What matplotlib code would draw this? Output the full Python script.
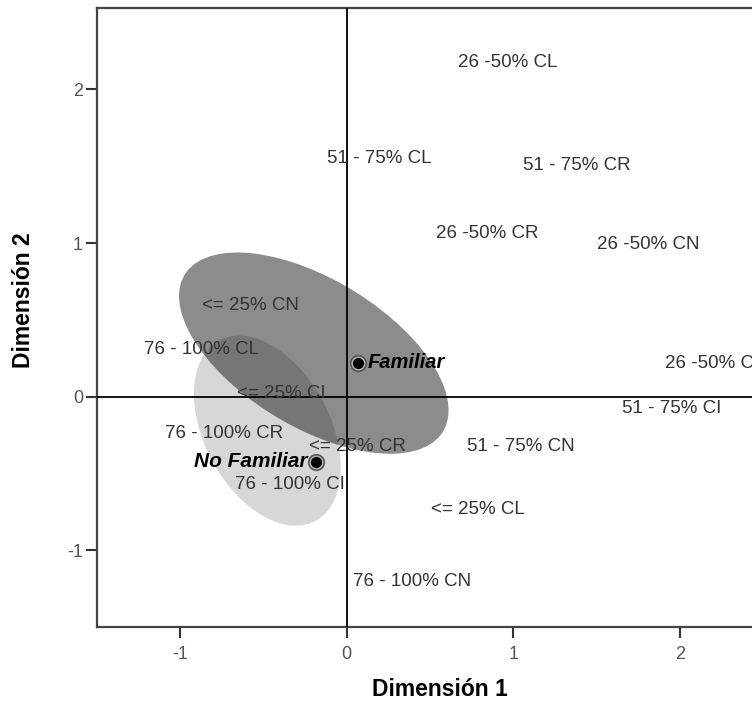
import matplotlib
matplotlib.use("Agg")
import matplotlib.pyplot as plt
from matplotlib.patches import Ellipse

plt.rcParams['font.family'] = ['Liberation Sans', 'DejaVu Sans']
plt.rcParams['axes.unicode_minus'] = False

# category points (left edge of label, vertical centre)
cat_labels = ["26 -50% CL", "51 - 75% CL", "51 - 75% CR", "26 -50% CR", "26 -50% CN",
              "<= 25% CN", "76 - 100% CL", "26 -50% CI", "<= 25% CI", "51 - 75% CI",
              "76 - 100% CR", "<= 25% CR", "51 - 75% CN", "76 - 100% CI", "<= 25% CL",
              "76 - 100% CN"]
cat_x = [0.666, -0.12, 1.06, 0.534, 1.506, -0.87, -1.218, 1.914, -0.66, 1.656,
         -1.092, -0.228, 0.72, -0.672, 0.504, 0.036]
cat_y = [2.176, 1.55, 1.505, 1.06, 0.99, 0.593, 0.306, 0.215, 0.02, -0.078,
         -0.24, -0.326, -0.326, -0.573, -0.736, -1.205]

# group centroids
grp_labels = ["Familiar", "No Familiar"]
grp_x = [0.066, -0.186]
grp_y = [0.22, -0.423]

# confidence ellipses: centre, width, height, angle
ell_cx = [-0.198, -0.477]
ell_cy = [0.283, -0.2215]
ell_w = [1.859, 1.312]
ell_h = [0.940, 0.767]
ell_ang = [-34.7, -65.9]

fig = plt.figure(figsize=(7.52, 7.02), dpi=100)
ax = fig.add_axes([0.129, 0.1068, 0.8856, 0.8818])

# light ellipse (No Familiar) first, then semi transparent dark one
ax.add_patch(Ellipse((ell_cx[1], ell_cy[1]), ell_w[1], ell_h[1], angle=ell_ang[1],
                     facecolor='#d7d7d7', edgecolor='none', zorder=1))
ax.add_patch(Ellipse((ell_cx[0], ell_cy[0]), ell_w[0], ell_h[0], angle=ell_ang[0],
                     facecolor='black', alpha=0.45, edgecolor='none', zorder=2))

ax.axhline(0, color='black', lw=1.3, zorder=3)
ax.axvline(0, color='black', lw=1.3, zorder=3)

for lab, x, y in zip(cat_labels, cat_x, cat_y):
    ax.text(x, y, lab, fontsize=13.5, color='#333333', ha='left', va='center', zorder=4)

# centroid markers: black dot inside a grey ring
ax.scatter(grp_x, grp_y, s=125, facecolor='#bbbbbb', edgecolor='#555555', lw=1.2, zorder=5)
ax.scatter(grp_x, grp_y, s=50, color='black', zorder=6)
ax.text(grp_x[0] + 0.06, grp_y[0], grp_labels[0], fontsize=14.5, fontweight='bold',
        style='italic', ha='left', va='center', zorder=6)
ax.text(grp_x[1] - 0.05, grp_y[1], grp_labels[1], fontsize=15, fontweight='bold',
        style='italic', ha='right', va='center', zorder=6)

ax.set_xlim(-1.5, 2.5)
ax.set_ylim(-1.5, 2.53)
ax.set_xticks([-1, 0, 1, 2])
ax.set_yticks([-1, 0, 1, 2])
ax.tick_params(direction='out', length=8, width=1.5, color='#333333',
               labelcolor='#555555', labelsize=13)
ax.tick_params(axis='x', pad=6)
ax.tick_params(axis='y', pad=2)
for s in ax.spines.values():
    s.set_color('#444444')
    s.set_linewidth(1.6)

fig.text(440 / 752, 1 - 690 / 702, "Dimensión 1", fontsize=16.5, fontweight='bold',
         ha='center', va='center')
fig.text(24 / 752, 1 - 300 / 702, "Dimensión 2", fontsize=16.5, fontweight='bold',
         ha='center', va='center', rotation=90)

plt.savefig("out.png", dpi=100)
plt.close()
